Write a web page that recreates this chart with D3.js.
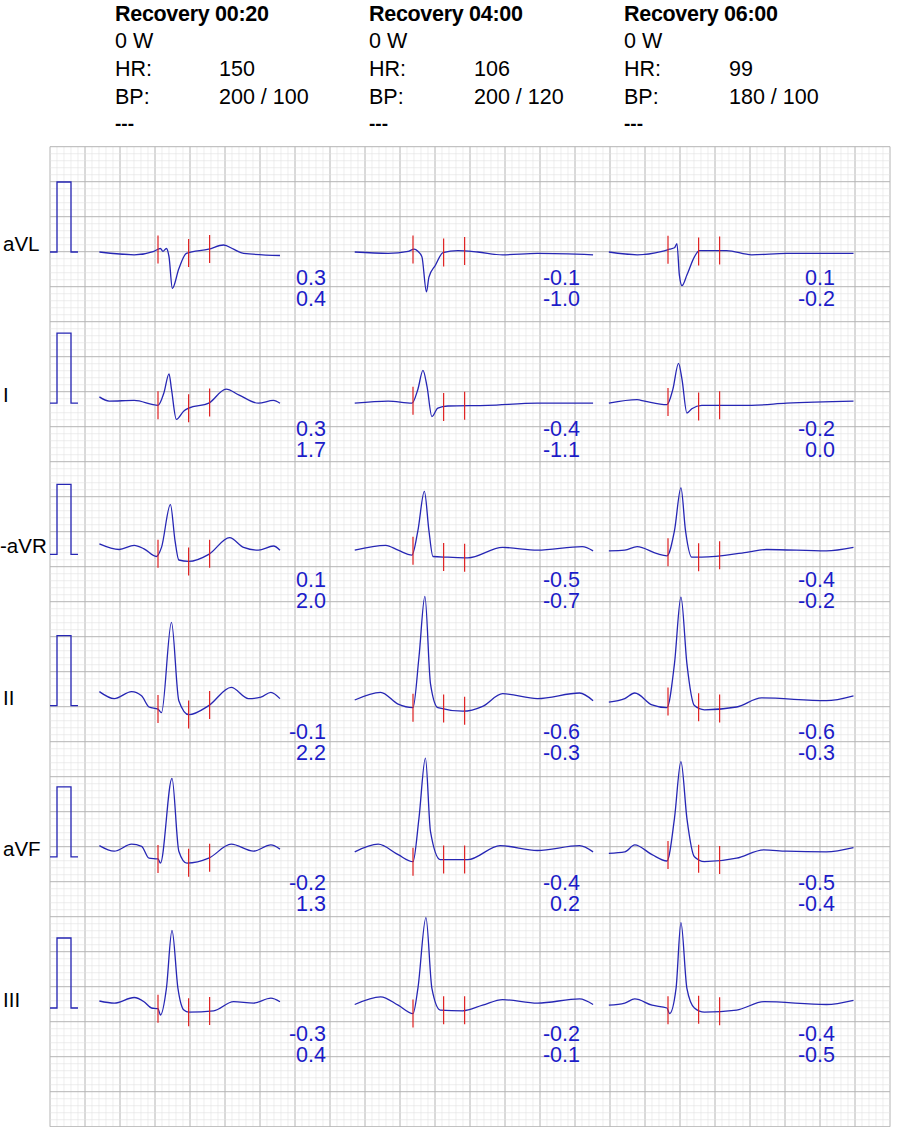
<!DOCTYPE html>
<html><head><meta charset="utf-8">
<script src="https://cdn.jsdelivr.net/npm/d3@7"></script>
<style>body{margin:0;background:#fff}svg text{font-family:"Liberation Sans",Arial,sans-serif}</style>
</head><body><svg id="c" width="900" height="1127"></svg>
<script>
const leads = ["aVL","I","-aVR","II","aVF","III"];
const stages = ["Recovery 00:20","Recovery 04:00","Recovery 06:00"];
const loads = ["0 W","0 W","0 W"];
const hr = ["150","106","99"];
const bp = ["200 / 100","200 / 120","180 / 100"];
// measurement values [lead][column] -> [line1,line2]
const meas = [
 [["0.3","0.4"],["-0.1","-1.0"],["0.1","-0.2"]],
 [["0.3","1.7"],["-0.4","-1.1"],["-0.2","0.0"]],
 [["0.1","2.0"],["-0.5","-0.7"],["-0.4","-0.2"]],
 [["-0.1","2.2"],["-0.6","-0.3"],["-0.6","-0.3"]],
 [["-0.2","1.3"],["-0.4","0.2"],["-0.5","-0.4"]],
 [["-0.3","0.4"],["-0.2","-0.1"],["-0.4","-0.5"]]
];
// marker times (ms relative to QRS onset)
const markers = [0,175,295];
// waveforms [lead][column] : [ms, mV]
const waves = [
 [ // aVL
  [[-335,0],[-136,-.04],[-23,.01],[14,.05],[28,.01],[48,.05],[63,-.07],[82,-.52],[119,-.24],[162,-.02],[290,.04],[375,.10],[432,.04],[489,-.02],[697,-.05]],
  [[-333,0],[-142,-.02],[-28,.01],[6,.04],[28,.01],[51,-.07],[77,-.57],[91,-.36],[128,-.19],[171,-.01],[256,.02],[370,0],[512,-.04],[711,-.02],[1029,-.04]],
  [[-338,0],[-176,-.04],[-34,.01],[9,.04],[37,.06],[51,.12],[65,-.33],[80,-.48],[108,-.33],[151,-.07],[179,.02],[335,.02],[478,-.04],[677,-.02],[1060,-.02]]
 ],
 [ // I
  [[-335,.09],[-279,.03],[-136,.04],[0,-.03],[34,.15],[63,.42],[77,.20],[105,-.23],[148,-.11],[176,-.07],[290,0],[389,.20],[461,.12],[574,0],[660,.04],[697,0]],
  [[-333,0],[-142,.03],[-6,0],[28,.2],[57,.47],[80,.24],[108,-.19],[142,-.07],[199,-.04],[427,-.03],[711,0],[1029,0]],
  [[-338,0],[-176,.05],[-134,.03],[-6,-.02],[28,.2],[60,.57],[80,.34],[108,-.14],[136,-.08],[193,-.03],[478,-.03],[677,0],[1060,.03]]
 ],
 [ // -aVR
  [[-335,.15],[-222,.07],[-136,.13],[-80,.08],[-9,-.03],[20,.10],[71,.71],[97,.20],[119,-.08],[176,-.10],[290,0],[409,.24],[489,.10],[574,.06],[660,.12],[697,.06]],
  [[-333,.06],[-156,.13],[-85,.06],[-6,-.01],[28,.34],[65,.90],[91,.34],[114,-.03],[199,-.04],[313,-.05],[512,.10],[711,.06],[967,.11],[1029,.05]],
  [[-338,.05],[-247,.06],[-176,.11],[-63,.01],[-6,-.02],[37,.34],[74,.95],[100,.34],[136,-.04],[193,-.04],[449,.03],[563,.07],[904,.05],[1060,.10]]
 ],
 [ // II
  [[-335,.20],[-250,.10],[-151,.20],[-94,.14],[-51,-.02],[0,-.05],[20,-.10],[77,1.19],[119,.07],[176,-.13],[290,0],[418,.26],[517,.10],[588,.12],[645,.19],[697,.10]],
  [[-333,.08],[-185,.19],[-85,.02],[0,-.03],[34,.69],[68,1.56],[100,.31],[142,-.03],[284,-.08],[398,-.01],[512,.17],[711,.10],[952,.18],[1029,.07]],
  [[-338,.05],[-247,.10],[-190,.18],[-91,.01],[-6,-.03],[37,.60],[74,1.55],[108,.60],[151,0],[208,-.06],[392,-.02],[534,.11],[904,.07],[1060,.14]]
 ],
 [ // aVF
  [[-335,.16],[-250,.08],[-151,.18],[-94,.15],[-51,-.02],[0,-.03],[14,-.09],[80,1.12],[119,.08],[165,-.09],[290,-.02],[418,.18],[546,.08],[645,.17],[697,.11]],
  [[-333,.07],[-199,.18],[-85,.03],[0,-.07],[34,.55],[71,1.41],[100,.36],[156,-.04],[313,-.04],[498,.16],[711,.09],[952,.16],[1029,.07]],
  [[-338,.05],[-247,.07],[-190,.17],[-91,.03],[-6,-.06],[37,.55],[74,1.36],[108,.55],[151,0],[208,-.07],[392,-.02],[548,.10],[677,.08],[904,.07],[1060,.13]]
 ],
 [ // III
  [[-335,.10],[-250,.07],[-136,.15],[-80,.09],[-37,0],[0,-.01],[14,-.10],[48,.28],[80,1.11],[114,.28],[148,-.03],[176,-.06],[318,-.04],[432,.09],[546,.07],[645,.14],[697,.09]],
  [[-333,.05],[-185,.16],[-85,.04],[0,-.08],[28,.28],[74,1.29],[108,.28],[156,-.03],[284,-.04],[398,.04],[512,.12],[711,.07],[952,.13],[1029,.05]],
  [[-338,.04],[-247,.07],[-190,.13],[-91,.04],[-6,0],[9,-.08],[46,.28],[74,1.22],[108,.28],[151,0],[208,-.06],[392,-.03],[548,.09],[904,.05],[1060,.11]]
 ]
];

const svg = d3.select("#c");
const gx0=50, gx1=890, gy0=146.7, gy1=1126.7, minor=7;
const gridX = d3.scaleLinear().domain([0,(gx1-gx0)/minor]).range([gx0,gx1]);
const gridY = d3.scaleLinear().domain([0,(gy1-gy0)/minor]).range([gy0,gy1]);
const g = svg.append("g");
d3.range(0,(gx1-gx0)/minor+1).forEach(i=>{
  g.append("line").attr("x1",gridX(i)).attr("x2",gridX(i)).attr("y1",gy0).attr("y2",gy1)
   .attr("stroke",i%5===0?"#b4b4b4":"#e2e2e2").attr("stroke-width",i%5===0?1:0.6);
});
d3.range(0,Math.floor((gy1-gy0)/minor)+1).forEach(i=>{
  g.append("line").attr("y1",gridY(i)).attr("y2",gridY(i)).attr("x1",gx0).attr("x2",gx1)
   .attr("stroke",i%5===0?"#b4b4b4":"#e2e2e2").attr("stroke-width",i%5===0?1:0.6);
});

const FS = 21.5;
const colX=[115,369,624], valX=[219,474,729];
stages.forEach((s,c)=>{
  const h=svg.append("g").attr("font-size",FS).attr("fill","#000");
  h.append("text").attr("x",colX[c]).attr("y",21).attr("font-weight","bold").attr("letter-spacing",-0.3).text(s);
  h.append("text").attr("x",colX[c]).attr("y",48).text(loads[c]);
  h.append("text").attr("x",colX[c]).attr("y",76).text("HR:");
  h.append("text").attr("x",valX[c]).attr("y",76).text(hr[c]);
  h.append("text").attr("x",colX[c]).attr("y",104).text("BP:");
  h.append("text").attr("x",valX[c]).attr("y",104).text(bp[c]);
  h.append("text").attr("x",colX[c]).attr("y",130).attr("font-weight","bold").attr("font-size",19).text("---");
});

const pxPerMv = 70;
const colMarkerX=[158,413,668];
const measX=[326,580,835];
const line = d3.line().curve(d3.curveMonotoneX);
leads.forEach((ld,r)=>{
  const base = 252 + r*151.2;
  svg.append("text").attr("x",ld.startsWith("-")?0:3).attr("y",base-1).attr("font-size",20.5).text(ld);
  const cal = d3.path();
  cal.moveTo(50,base); cal.lineTo(57,base); cal.lineTo(57,base-pxPerMv); cal.lineTo(71,base-pxPerMv); cal.lineTo(71,base); cal.lineTo(78,base);
  svg.append("path").attr("d",cal.toString()).attr("fill","none").attr("stroke","#2626b4").attr("stroke-width",1.3);
  [0,1,2].forEach(c=>{
    const xs=d3.scaleLinear().domain([0,1000]).range([colMarkerX[c],colMarkerX[c]+175]);
    const ys=d3.scaleLinear().domain([0,1]).range([base,base-pxPerMv]);
    const data=waves[r][c];
    svg.append("path").attr("d",line(data.map(d=>[xs(d[0]),ys(d[1])]))).attr("fill","none")
      .attr("stroke","#2626b4").attr("stroke-width",1.3);
    const interp=d3.scaleLinear().domain(data.map(d=>d[0])).range(data.map(d=>d[1]));
    markers.forEach(m=>{
      const yc=ys(interp(m));
      svg.append("line").attr("x1",xs(m)).attr("x2",xs(m)).attr("y1",yc-14).attr("y2",yc+14)
        .attr("stroke","#e02020").attr("stroke-width",1.2);
    });
    meas[r][c].forEach((v,k)=>{
      svg.append("text").attr("x",measX[c]).attr("y",base+33+k*21).attr("text-anchor","end")
        .attr("font-size",FS).attr("fill","#1c1cc8").text(v);
    });
  });
});
</script></body></html>
